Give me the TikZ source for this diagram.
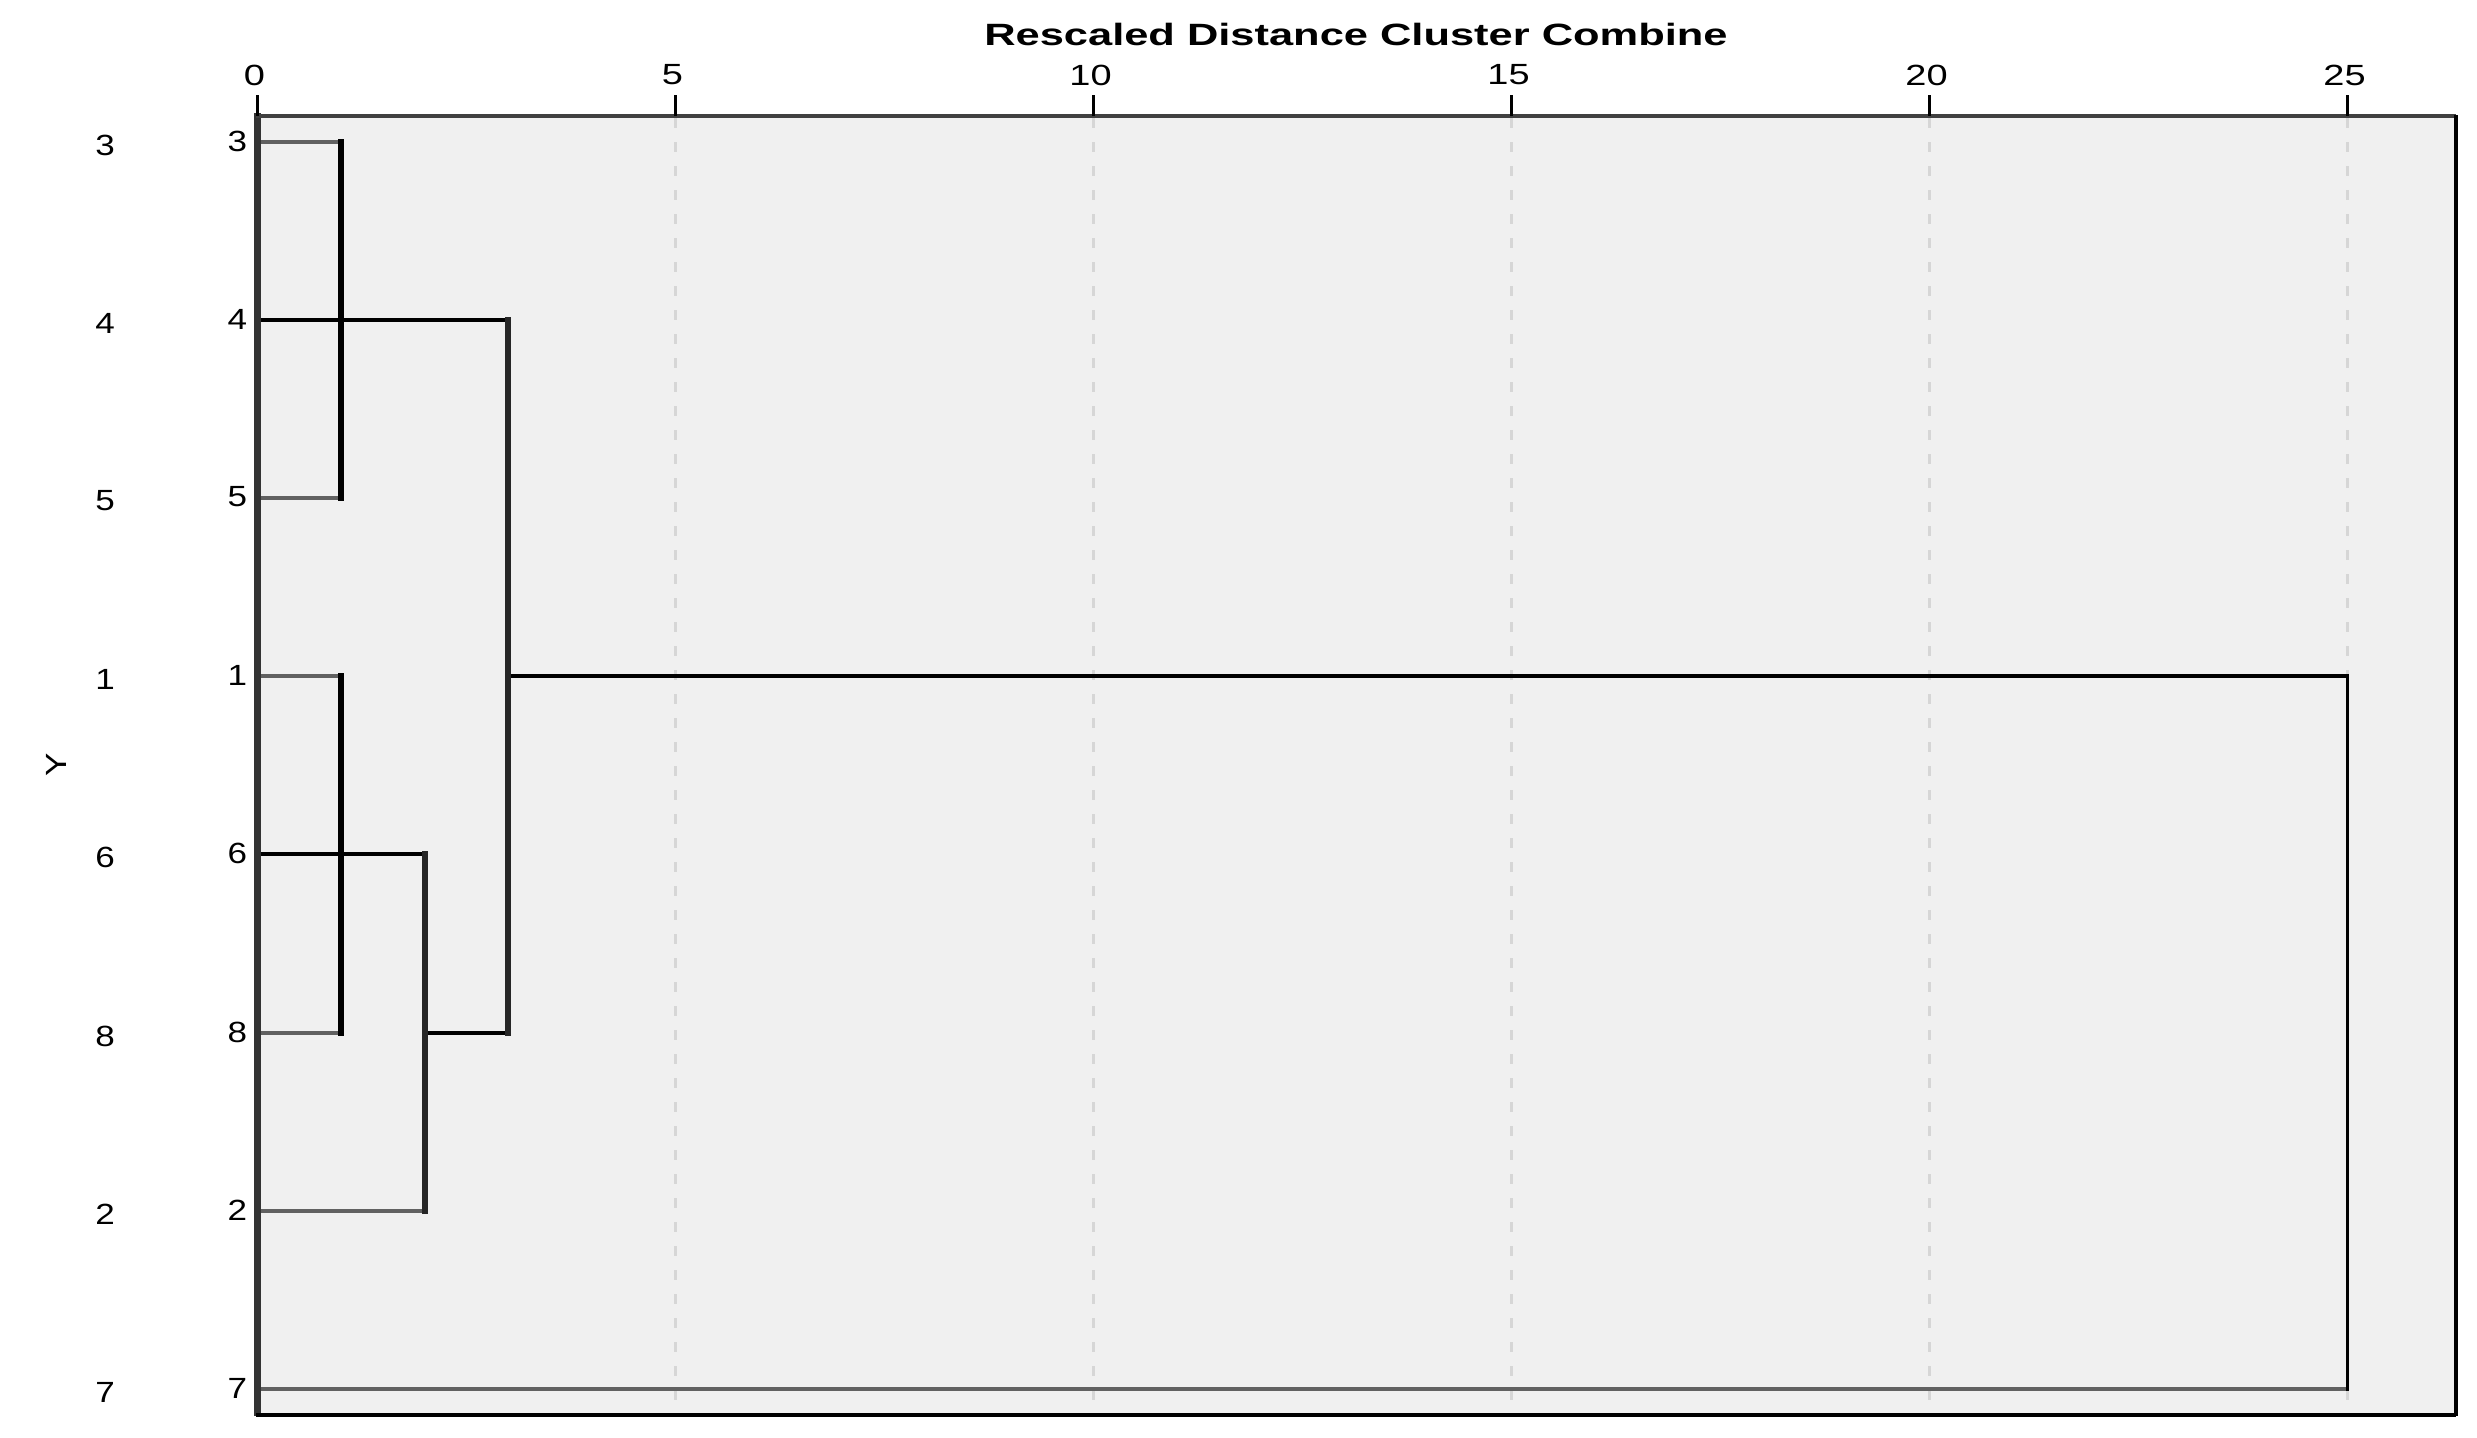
\documentclass[tikz,border=0pt]{standalone}
\usepackage{graphicx}
\usepackage{fontspec}
\setmainfont{Liberation Sans}
\newcommand{\widetxt}[2]{\scalebox{#1}[1]{#2}}
\begin{document}
\begin{tikzpicture}[x=0.25pt,y=-0.25pt,
  lab/.style={font=\fontsize{7.3pt}{8pt}\selectfont, inner sep=0pt},
  leafline/.style={line width=0.8pt, draw=black!62},
  joinline/.style={line width=1pt, draw=black},
  vline/.style={line width=1.5pt, draw=black!85, line cap=rect},
  gridline/.style={line width=0.75pt, draw=black!16, dash pattern=on 2.5pt off 3.5pt},
  tickline/.style={line width=0.75pt, draw=black}]
\useasboundingbox (0,0) rectangle (2477,1437);
\fill[white] (0,0) rectangle (2477,1437);
% plot area
\fill[black!6] (257.5,116) rectangle (2456,1415);
% grid
\foreach \gx in {675.5,1093.5,1511.5,1929.5,2347.5}
  \draw[gridline] (\gx,118) -- (\gx,1413);
% leaf starts
\coordinate (s3) at (257.5,142);
\coordinate (s4) at (257.5,320);
\coordinate (s5) at (257.5,498);
\coordinate (s1) at (257.5,676);
\coordinate (s6) at (257.5,854);
\coordinate (s8) at (257.5,1033);
\coordinate (s2) at (257.5,1211);
\coordinate (s7) at (257.5,1389);
% merge points
\coordinate (c3) at (341.1,142);
\coordinate (c5) at (341.1,498);
\coordinate (c4) at (508.3,320);
\coordinate (c1) at (341.1,676);
\coordinate (c8) at (341.1,1033);
\coordinate (d6) at (424.7,854);
\coordinate (d2) at (424.7,1211);
\coordinate (d8) at (424.7,1033);
\coordinate (e8) at (508.3,1033);
\coordinate (e1) at (508.3,676);
\coordinate (f1) at (2347.5,676);
\coordinate (f7) at (2347.5,1389);
% dendrogram
\draw[leafline] (s3) -- (c3);
\draw[leafline] (s5) -- (c5);
\draw[leafline] (s1) -- (c1);
\draw[leafline] (s8) -- (c8);
\draw[leafline] (s2) -- (d2);
\draw[leafline] (s7) -- (f7);
\draw[joinline] (s4) -- (c4);
\draw[joinline] (s6) -- (d6);
\draw[joinline] (d8) -- (e8);
\draw[line width=0.85pt, draw=black] (e1) -- (f1);
\draw[vline, draw=black] (c3) -- (c5);
\draw[vline, draw=black] (c1) -- (c8);
\draw[vline] (d6) -- (d2);
\draw[vline] (c4) -- (e8);
\draw[line width=0.95pt, draw=black, line cap=rect] (f1) -- (f7);
% frame
\draw[line width=1.75pt, draw=black!80] (257.5,113) -- (257.5,1416);
\draw[line width=1.2pt, draw=black!75] (256,116) -- (2456,116);
\draw[line width=0.9pt, draw=black] (256,1415) -- (2456,1415);
\draw[line width=1pt, draw=black] (2456,115) -- (2456,1416);
% ticks and tick labels
\foreach \tx/\tl in {257.5/0,675.5/5,1093.5/10,1511.5/15,1929.5/20,2347.5/25}{
  \draw[tickline] (\tx,95) -- (\tx,116);
  \node[lab] (t\tl) at (\tx-3,75) {\widetxt{1.3}{\tl}};
}
% title
\node[font=\fontsize{7.7pt}{9pt}\selectfont\bfseries, inner sep=0pt] (title) at (1356,34)
  {\widetxt{1.41}{Rescaled Distance Cluster Combine}};
% row labels
\foreach \ry/\rl in {142/3,320/4,498/5,676/1,854/6,1033/8,1211/2,1389/7}{
  \node[lab] (a\rl) at (105,\ry+3) {\widetxt{1.2}{\rl}};
  \node[lab, anchor=east] (b\rl) at (248,\ry-1) {\widetxt{1.2}{\rl}};
}
\node[lab, rotate=90] (ylab) at (56,765) {\widetxt{1.2}{Y}};
\end{tikzpicture}
\end{document}
